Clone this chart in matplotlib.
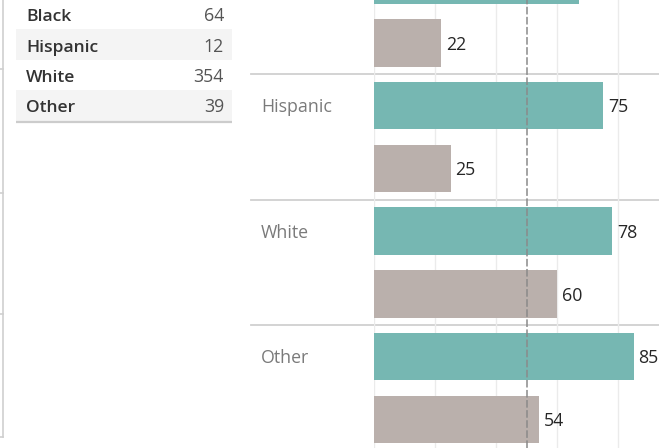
import matplotlib
matplotlib.use('Agg')
import matplotlib.pyplot as plt
import matplotlib.transforms as mtrans
from matplotlib.patches import Rectangle

# ---- data ----
races = ['Black', 'Hispanic', 'White', 'Other']
counts = [64, 12, 354, 39]
teal_values = [67, 75, 78, 85]
gray_values = [22, 25, 60, 54]
reference_value = 50
grid_ticks = [0, 20, 40, 60, 80, 100]

plt.rcParams['font.family'] = ['Open Sans', 'DejaVu Sans']

W, H = 659, 448
fig = plt.figure(figsize=(W / 100, H / 100), dpi=100)
fig.patch.set_facecolor('white')

# overlay axes in pixel coordinates
ax0 = fig.add_axes([0, 0, 1, 1])
ax0.set_xlim(0, W)
ax0.set_ylim(H, 0)
ax0.axis('off')

# left edge fragment of neighbouring view
ax0.plot([2.5, 2.5], [0, 437], color='#cfcfcf', lw=1.2)
for yy in [69, 193, 314, 437]:
    ax0.plot([0, 3], [yy, yy], color='#cfcfcf', lw=1.2)

# ---- table ----
row_top0 = -1
row_h = 30.5
tx0, tx1 = 16, 232
for i, (r, c) in enumerate(zip(races, counts)):
    top = row_top0 + i * row_h
    if i % 2 == 1:
        ax0.add_patch(Rectangle((tx0, top), tx1 - tx0, row_h,
                                facecolor='#f4f4f4', edgecolor='none', zorder=0))
    yb = top + 22
    ax0.text(26, yb, r, fontsize=12.6, fontweight='semibold', color='#333333',
             va='baseline', ha='left')
    ax0.text(224, yb, str(c), fontsize=12.8, color='#555555', va='baseline', ha='right')
ax0.plot([tx0, tx1], [122, 122], color='#cccccc', lw=1.6, solid_capstyle='butt')

# ---- bar chart ----
x_left_px = 374.3
ax = fig.add_axes([x_left_px / W, 0, (W - x_left_px) / W, 1])
ax.set_facecolor('none')
for s in ax.spines.values():
    s.set_visible(False)
ax.set_xticks(grid_ticks)
ax.set_yticks([])
ax.tick_params(length=0, labelbottom=False)
ax.grid(axis='x', color='#ebebeb', lw=1)
ax.set_axisbelow(True)
ax.set_xlim(0, (W - x_left_px) / 3.05)
y_top, y_bot = -0.0916, 3.478
ax.set_ylim(y_bot, y_top)

idx = list(range(len(races)))
off = 0.251
bh = 0.382
ax.barh([i - off for i in idx], teal_values, height=bh, color='#76b7b2', zorder=2)
ax.barh([i + off for i in idx], gray_values, height=bh, color='#bab0ac', zorder=2)

def visible(y):
    return y - bh / 2 > y_top

for i in idx:
    for v, y in ((teal_values[i], i - off), (gray_values[i], i + off)):
        if visible(y):
            ax.annotate(str(v), (v, y), xytext=(3.6, -5), textcoords='offset points',
                        va='baseline', ha='left', fontsize=12.8, color='#262626',
                        annotation_clip=False)

ref = ax.axvline(reference_value, color='#8a8a8a', lw=1.1, zorder=3)
ref.set_dashes([5, 1.6])

# category labels and dividers (x in pixels, y in bar data)
bt = mtrans.blended_transform_factory(ax0.transData, ax.transData)
for i in idx:
    if visible(i - off):
        ax0.text(261, i - off + 0.053, races[i], transform=bt, fontsize=12.8,
                 color='#7a7a7a', va='baseline', ha='left')
for i in idx[:-1]:
    ax0.plot([251, W], [i + 0.5, i + 0.5], transform=bt, color='#d0d0d0', lw=1.3)

fig.savefig('out.png', dpi=100, facecolor='white')
